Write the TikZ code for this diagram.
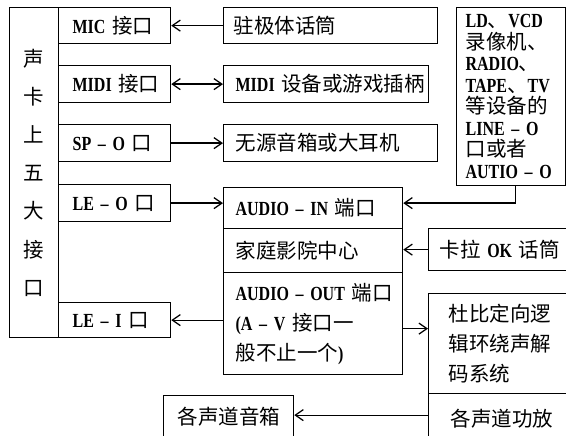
\documentclass[tikz,border=0pt]{standalone}
\usepackage{fontspec}
\setmainfont{Liberation Serif}[FakeStretch=0.8]
\newfontfamily\cjk{Noto Sans CJK SC}
\usetikzlibrary{arrows.meta}
\newcommand\zh[1]{{\cjk\mdseries\fontsize{20.5pt}{20.5pt}\selectfont #1}}
\newcommand\onel[1]{\mbox{#1}}
\begin{document}
\begin{tikzpicture}[x=1pt,y=-1pt, line width=1.25pt,
 bx/.style={draw, anchor=north west, align=left, inner ysep=0pt, font=\fontsize{20pt}{30pt}\selectfont\bfseries},
 arr/.style={-{Straight Barb[length=8pt,width=11pt]}},
 arrb/.style={{Straight Barb[length=8pt,width=11pt]}-{Straight Barb[length=8pt,width=11pt]}}]

\useasboundingbox (0,0) rectangle (566,436);
\clip (0,0) rectangle (566,436);

\node[draw, anchor=north west, minimum width=49pt, minimum height=330pt, inner sep=0pt, align=center,
      font=\cjk\fontsize{20.5pt}{38.2pt}\selectfont] (L) at (9,7) {声\\卡\\上\\五\\大\\接\\口};

\node[bx, text width=84pt, inner xsep=14pt, minimum height=36pt] (mic) at (58,7) {\onel{MIC \zh{接口}}};
\node[bx, text width=84pt, inner xsep=14pt, minimum height=37pt] (midi) at (58,65) {\onel{MIDI \zh{接口}}};
\node[bx, text width=84pt, inner xsep=14pt, minimum height=37pt] (sp) at (58,124) {\onel{SP – O \zh{口}}};
\node[bx, text width=84pt, inner xsep=14pt, minimum height=37pt] (leo) at (58,184) {\onel{LE – O \zh{口}}};
\node[bx, text width=84pt, inner xsep=14pt, minimum height=35pt] (lei) at (58,302) {\onel{LE – I \zh{口}}};

\node[bx, text width=194pt, inner xsep=10pt, minimum height=36pt] (micdev) at (223,7) {\onel{\zh{驻极体话筒}}};
\node[bx, text width=181pt, inner xsep=12pt, minimum height=37pt] (mididev) at (223,65) {\onel{MIDI \zh{设备或游戏插柄}}};
\node[bx, text width=190pt, inner xsep=12pt, minimum height=37pt] (spk) at (223,124) {\onel{\zh{无源音箱或大耳机}}};

\node[bx, text width=155pt, inner xsep=12pt, minimum height=41pt] (ain) at (223,187) {\onel{AUDIO – IN \zh{端口}}};
\node[bx, text width=155pt, inner xsep=12pt, minimum height=44pt] (home) at (223,228) {\onel{\zh{家庭影院中心}}};
\node[bx, text width=155pt, inner xsep=12pt, minimum height=102pt] (aout) at (223,272)
  {\onel{AUDIO – OUT \zh{端口}}\\\onel{(A – V \zh{接口一}}\\\onel{\zh{般不止一个})}};

\node[bx, text width=91pt, inner xsep=9pt, minimum height=178pt, font=\fontsize{20pt}{21.5pt}\selectfont\bfseries] (ld) at (456,7)
  {\onel{LD\zh{、}VCD}\\\onel{\zh{录像机、}}\\\onel{RADIO\zh{、}}\\\onel{TAPE\zh{、}TV}\\\onel{\zh{等设备的}}\\\onel{LINE – O}\\\onel{\zh{口或者}}\\\onel{AUTIO – O}};

\node[bx, text width=120pt, inner xsep=11pt, minimum height=42pt] (kok) at (428,228) {\onel{\zh{卡拉} OK \zh{话筒}}};
\node[bx, text width=102pt, inner xsep=20pt, minimum height=100pt] (dolby) at (428,293)
  {\onel{\zh{杜比定向逻}}\\\onel{\zh{辑环绕声解}}\\\onel{\zh{码系统}}};
\node[bx, text width=98pt, inner xsep=22pt, minimum height=50pt] (amp) at (428,393) {\onel{\zh{各声道功放}}};
\node[bx, text width=102pt, inner xsep=14pt, minimum height=42pt] (spkall) at (163,395) {\onel{\zh{各声道音箱}}};

\draw[arr] (micdev.west) -- (mic.east);
\draw[arrb] (midi.east) -- (mididev.west);
\draw[arr] (sp.east) -- (spk.west);
\draw[arr] (leo.east) -- (leo.east -| ain.west);
\coordinate (ldd) at ([xshift=4.5pt]ld.south);
\draw[arr] (ldd) |- ([yshift=5pt]ain.east);
\draw[arr] (kok.west) -- (kok.west -| home.east);
\draw[arr] (lei.east -| aout.west) -- (lei.east);
\draw[arr] ([yshift=-5pt]aout.east) -- ([yshift=-5pt]aout.east -| dolby.west);
\draw[arr] ([yshift=3.5pt]amp.west) -- ([yshift=3.5pt]amp.west -| spkall.east);
\end{tikzpicture}
\end{document}
